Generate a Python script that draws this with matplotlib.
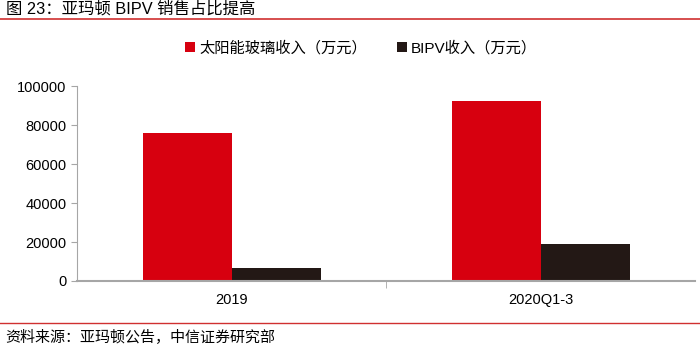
import numpy as np
import matplotlib.pyplot as plt
from matplotlib.lines import Line2D

plt.rcParams['font.family'] = ['Liberation Sans', 'Noto Sans CJK SC', 'DejaVu Sans']

categories = ["2019", "2020Q1-3"]
glass_revenue = [75900, 92300]
bipv_revenue = [6700, 19000]
series_names = ["太阳能玻璃收入（万元）", "BIPV收入（万元）"]
y_ticks = [0, 20000, 40000, 60000, 80000, 100000]

RED = "#D7000F"
DARK = "#231815"
GREY = "#A6A6A6"

fig = plt.figure(figsize=(7.0, 3.53), dpi=100)
ax = fig.add_axes([0.11, 0.204, 0.883, 0.552])

x = np.arange(len(categories))
w = 0.288
ax.bar(x - w / 2, glass_revenue, width=w, color=RED, label=series_names[0])
ax.bar(x + w / 2, bipv_revenue, width=w, color=DARK, label=series_names[1])

ax.set_xlim(-0.5, 1.5)
ax.set_ylim(0, 100000)
ax.set_yticks(y_ticks)
ax.set_yticklabels([str(v) for v in y_ticks])
ax.set_xticks(x)
ax.set_xticklabels(categories)
ax.set_xticks([0.5], minor=True)

for s in ["top", "right"]:
    ax.spines[s].set_visible(False)
ax.spines["left"].set_color(GREY)
ax.spines["bottom"].set_color(GREY)
ax.spines["bottom"].set_linewidth(1.5)
ax.tick_params(axis="y", colors=GREY, labelcolor="black", labelsize=10.5, length=4)
ax.tick_params(axis="x", which="major", length=0, labelsize=10.5, pad=9)
ax.tick_params(axis="x", which="minor", length=5, color=GREY)

ax.legend(loc="center", bbox_to_anchor=(0.46, 1.196), ncol=2, frameon=False,
          fontsize=11, handlelength=0.6, handleheight=0.6, handletextpad=0.3,
          columnspacing=2.0, borderpad=0)

# header and footer
fig.text(0.008, 0.974, "图 23：亚玛顿 BIPV 销售占比提高", fontsize=11.8, va="center", ha="left")
fig.add_artist(Line2D([0, 1], [0.946, 0.946], color="#D03030", lw=1.2, transform=fig.transFigure))
fig.add_artist(Line2D([0, 1], [0.084, 0.084], color="#D03030", lw=1.0, transform=fig.transFigure))
fig.text(0.008, 0.043, "资料来源：亚玛顿公告，中信证券研究部", fontsize=10.8, va="center", ha="left")

fig.savefig("out.png", dpi=100)
